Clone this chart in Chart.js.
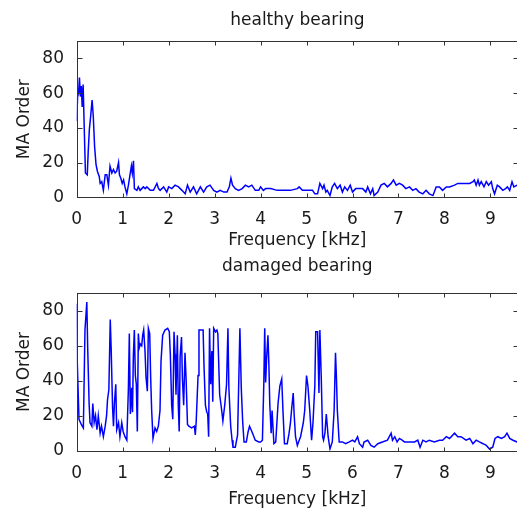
<!DOCTYPE html>
<html>
<head>
<meta charset="utf-8">
<script src="https://cdn.jsdelivr.net/npm/chart.js@4.4.1/dist/chart.umd.min.js"></script>
<style>
  html, body { margin: 0; padding: 0; background: #fff; }
  #wrap { position: relative; width: 517px; height: 513px; overflow: hidden; }
  canvas { position: absolute; left: 0; }
  #healthy { top: 0; }
  #damaged { top: 250px; }
</style>
</head>
<body>
<div id="wrap">
  <canvas id="healthy" width="520" height="256"></canvas>
  <canvas id="damaged" width="520" height="263"></canvas>
</div>
<script>
const xTicks = [0, 1, 2, 3, 4, 5, 6, 7, 8, 9];
const yTicks = [0, 20, 40, 60, 80];

// healthy bearing: frequency [kHz] and MA order
const healthyFreq = [
  0, 0.02, 0.04, 0.06, 0.08, 0.10, 0.12, 0.14, 0.165, 0.19,
  0.23, 0.25, 0.275, 0.305, 0.335, 0.36, 0.39, 0.42, 0.45, 0.49,
  0.51, 0.545, 0.58, 0.62, 0.655, 0.69, 0.725, 0.765, 0.80, 0.835,
  0.87, 0.91, 0.93, 0.96, 0.99, 1.02, 1.05, 1.09, 1.125, 1.16,
  1.19, 1.21, 1.235, 1.255, 1.31, 1.34, 1.38, 1.415, 1.45, 1.49,
  1.525, 1.60, 1.67, 1.745, 1.78, 1.815, 1.89, 1.96, 2.00, 2.07,
  2.14, 2.215, 2.29, 2.36, 2.41, 2.47, 2.54, 2.61, 2.69, 2.76,
  2.83, 2.90, 2.98, 3.05, 3.12, 3.20, 3.27, 3.32, 3.355, 3.39,
  3.45, 3.52, 3.60, 3.67, 3.74, 3.81, 3.885, 3.96, 4.00, 4.06,
  4.11, 4.22, 4.36, 4.51, 4.65, 4.80, 4.84, 4.91, 5.02, 5.13,
  5.18, 5.24, 5.29, 5.35, 5.38, 5.42, 5.45, 5.51, 5.56, 5.61,
  5.67, 5.73, 5.78, 5.83, 5.89, 5.95, 6.00, 6.07, 6.15, 6.22,
  6.29, 6.33, 6.39, 6.44, 6.47, 6.55, 6.62, 6.69, 6.76, 6.84,
  6.89, 6.95, 7.02, 7.09, 7.16, 7.24, 7.31, 7.38, 7.45, 7.53,
  7.60, 7.67, 7.75, 7.82, 7.89, 7.96, 8.04, 8.11, 8.22, 8.29,
  8.40, 8.55, 8.62, 8.65, 8.69, 8.73, 8.76, 8.80, 8.86, 8.91,
  8.96, 9.02, 9.05, 9.09, 9.15, 9.20, 9.27, 9.33, 9.37, 9.42,
  9.47, 9.51, 9.58, 9.62
];
const healthyOrder = [
  44, 58, 60, 69, 58, 64, 52, 65, 39, 14,
  13, 26, 39, 47, 56, 47, 29, 19, 15, 12,
  8, 9, 4, 13, 13, 7, 18, 14, 16, 14,
  15, 20, 13, 11, 8, 10, 6, 2, 7, 13,
  18, 14, 21, 5, 4, 6, 4, 5, 6, 5,
  6, 4, 4, 8, 5, 4, 6, 3, 6, 5,
  7, 6, 4, 2, 7, 3, 6, 2, 6, 3,
  6, 7, 4, 3, 4, 3, 3, 6, 11, 7,
  5, 4, 5, 7, 6, 7, 4, 4, 6, 4,
  5, 5, 4, 4, 4, 5, 6, 4, 4, 4,
  2, 2, 8, 5, 7, 3, 4, 1, 6, 8,
  5, 7, 3, 6, 4, 7, 3, 5, 5, 5,
  3, 6, 2, 5, 1, 3, 7, 8, 6, 8,
  10, 7, 8, 7, 5, 6, 4, 5, 3, 2,
  4, 2, 1, 6, 6, 4, 6, 6, 7, 8,
  8, 8, 9, 10, 7, 10, 7, 9, 6, 9,
  7, 9, 5, 2, 7, 6, 4, 5, 6, 4,
  9, 6, 7, 6
];

// damaged bearing
const damagedFreq = [
  0, 0.012, 0.05, 0.10, 0.145, 0.18, 0.22, 0.24, 0.27, 0.29,
  0.33, 0.35, 0.38, 0.41, 0.44, 0.47, 0.51, 0.54, 0.58, 0.62,
  0.65, 0.67, 0.70, 0.73, 0.75, 0.78, 0.80, 0.82, 0.85, 0.87,
  0.91, 0.94, 0.98, 1.01, 1.05, 1.09,
  1.124, 1.145, 1.167, 1.196, 1.214, 1.232, 1.254, 1.276, 1.297, 1.319,
  1.341, 1.363, 1.385, 1.414, 1.435, 1.457, 1.486, 1.508, 1.537, 1.559,
  1.588, 1.61, 1.631, 1.66, 1.704, 1.74, 1.776, 1.812, 1.834, 1.87,
  1.921, 1.979, 2.015, 2.037, 2.066, 2.09, 2.117, 2.14, 2.16, 2.19,
  2.21, 2.23, 2.25, 2.28, 2.30, 2.327, 2.356, 2.38, 2.41, 2.44,
  2.50, 2.56, 2.58, 2.60, 2.64, 2.66, 2.75, 2.77, 2.80, 2.83,
  2.85, 2.87, 2.89, 2.915, 2.94, 2.96, 2.98, 3.02, 3.05, 3.07,
  3.11, 3.15, 3.18, 3.22, 3.26, 3.29, 3.31, 3.35, 3.38, 3.40,
  3.45, 3.50, 3.53, 3.55, 3.58, 3.61, 3.64, 3.69, 3.73, 3.76,
  3.81, 3.885, 3.96, 4.00, 4.04, 4.07, 4.09, 4.11, 4.13, 4.16,
  4.18, 4.20, 4.23, 4.25, 4.29, 4.33, 4.38, 4.42, 4.46, 4.49,
  4.52, 4.58, 4.62, 4.65, 4.68, 4.71, 4.73, 4.76, 4.80,
  4.84, 4.87, 4.93, 4.96, 5.00, 5.03, 5.07, 5.11, 5.14, 5.18,
  5.20, 5.24, 5.27, 5.29, 5.32, 5.35, 5.37, 5.40, 5.43, 5.47,
  5.51, 5.56, 5.60, 5.63, 5.65, 5.67, 5.71, 5.78, 5.85, 5.93,
  6.00, 6.05, 6.11, 6.15, 6.22, 6.25, 6.33, 6.40, 6.47, 6.55,
  6.65, 6.76, 6.84, 6.87, 6.92, 6.97, 7.02, 7.08, 7.13, 7.24,
  7.35, 7.42, 7.47, 7.53, 7.60, 7.67, 7.78, 7.89, 7.96, 8.04,
  8.11, 8.22, 8.29, 8.36, 8.47, 8.55, 8.62, 8.69, 8.76, 8.84,
  8.91, 8.98, 9.05, 9.10, 9.16, 9.24, 9.31, 9.36, 9.42, 9.49,
  9.58, 9.62
];
const damagedOrder = [
  84, 51, 18, 15, 13, 69, 85, 58, 27, 16,
  14, 27, 16, 20, 12, 20, 10, 14, 8, 14,
  20, 29, 35, 75, 58, 25, 14, 27, 38, 12,
  16, 8, 16, 11, 8, 6,
  35, 67, 21, 36, 22, 54, 69, 43, 38, 11,
  67, 59, 61, 60, 66, 69, 57, 42, 34, 70,
  67, 41, 23, 7, 13, 11, 14, 23, 51, 66,
  69, 70, 68, 55, 26, 18, 68, 55, 32, 66,
  26, 11, 54, 65, 41, 26, 56, 41, 15, 14,
  13, 14, 9, 17, 43, 69, 69, 48, 26, 22,
  21, 8, 70, 38, 57, 28, 70, 68, 69, 67,
  32, 24, 17, 26, 38, 70, 36, 14, 6, 2,
  2, 9, 45, 70, 36, 17, 5, 5, 11, 14,
  11, 6, 5, 5, 6, 38, 70, 39, 52, 66,
  50, 27, 10, 23, 4, 5, 27, 37, 41, 21,
  4, 4, 10, 16, 25, 33, 21, 8, 3,
  6, 8, 16, 23, 43, 37, 23, 6, 16, 37,
  68, 68, 33, 69, 42, 8, 6, 10, 21, 8,
  1, 5, 23, 56, 42, 23, 5, 5, 4, 5,
  6, 5, 8, 4, 2, 5, 6, 3, 2, 4,
  5, 6, 10, 6, 8, 5, 7, 6, 5, 5,
  5, 6, 2, 6, 5, 6, 5, 6, 6, 8,
  7, 10, 8, 8, 6, 7, 4, 6, 5, 4,
  3, 1, 2, 7, 8, 7, 8, 10, 7, 6,
  5, 4
];

const textColor = '#1a1a1a';
const axisColor = '#333';
const font = { family: 'DejaVu Sans', size: 17 };

// matlab style box with inward ticks on all four sides
const axesBox = {
  id: 'axesBox',
  afterDatasetsDraw(chart) {
    const { ctx, chartArea: a, scales: { x, y } } = chart;
    const L = Math.round(a.left) + 0.5, R = Math.round(a.right) + 0.5;
    const T = Math.round(a.top) + 0.5, B = Math.round(a.bottom) + 0.5;
    ctx.save();
    ctx.strokeStyle = axisColor;
    ctx.lineWidth = 1;
    ctx.strokeRect(L, T, R - L, B - T);
    ctx.beginPath();
    xTicks.forEach(v => {
      const px = Math.round(x.getPixelForValue(v)) + 0.5;
      ctx.moveTo(px, B); ctx.lineTo(px, B - 4);
      ctx.moveTo(px, T); ctx.lineTo(px, T + 4);
    });
    yTicks.forEach(v => {
      const py = Math.round(y.getPixelForValue(v)) + 0.5;
      ctx.moveTo(L, py); ctx.lineTo(L + 5, py);
      ctx.moveTo(R, py); ctx.lineTo(R - 5, py);
    });
    ctx.stroke();
    ctx.restore();
  }
};

function makeChart(id, title, freq, order, lay) {
  return new Chart(document.getElementById(id), {
    type: 'line',
    data: {
      datasets: [{
        data: freq.map((f, i) => ({ x: f, y: order[i] })),
        borderColor: '#0000ff',
        borderWidth: 1.5,
        pointRadius: 0,
        tension: 0,
        fill: false,
      }],
    },
    options: {
      responsive: false,
      animation: false,
      devicePixelRatio: 1,
      layout: { padding: { left: 0, right: 2, top: 0, bottom: 0 } },
      plugins: {
        legend: { display: false },
        tooltip: { enabled: false },
        title: {
          display: true,
          fullSize: false,
          text: title,
          color: textColor,
          font: { ...font, weight: 'normal' },
          padding: { top: lay.titleTop, bottom: lay.titleBottom },
        },
      },
      scales: {
        x: {
          type: 'linear',
          min: 0,
          max: 9.6,
          afterBuildTicks: s => { s.ticks = xTicks.map(v => ({ value: v })); },
          afterFit: s => { s.height = lay.xHeight; },
          grid: { display: false, drawTicks: false },
          border: { display: false },
          ticks: { color: textColor, font, padding: 12.3, maxRotation: 0, autoSkip: false },
          title: {
            display: true,
            text: 'Frequency [kHz]',
            color: textColor,
            font,
            padding: { top: 0, bottom: lay.xTitleBottom },
          },
        },
        y: {
          type: 'linear',
          min: 0,
          max: 90,
          afterBuildTicks: s => { s.ticks = yTicks.map(v => ({ value: v })); },
          afterFit: s => { s.width = 76.7; },
          grid: { display: false, drawTicks: false },
          border: { display: false },
          ticks: { color: textColor, font, padding: 12.7 },
          title: {
            display: true,
            text: 'MA Order',
            color: textColor,
            font,
            padding: { top: 14.6, bottom: 0 },
          },
        },
      },
    },
    plugins: [axesBox],
  });
}

makeChart('healthy', 'healthy bearing', healthyFreq, healthyOrder,
  { titleTop: 9.9, titleBottom: 10.7, xHeight: 58.7, xTitleBottom: 5 });
makeChart('damaged', 'damaged bearing', damagedFreq, damagedOrder,
  { titleTop: 5.9, titleBottom: 17.0, xHeight: 62.3, xTitleBottom: 3.7 });
</script>
</body>
</html>
